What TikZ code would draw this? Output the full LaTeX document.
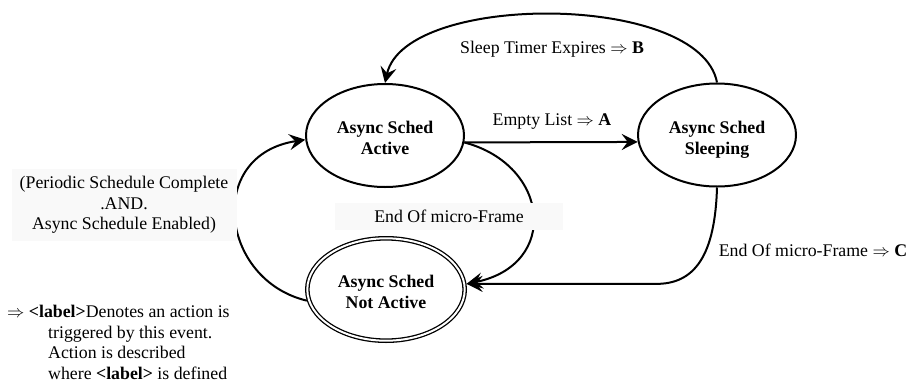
\documentclass[tikz,border=0pt]{standalone}
\usepackage{fontspec}
\setmainfont{Liberation Serif}
\usetikzlibrary{arrows.meta,shapes.geometric}
\newcommand\myTopStrut{\rule{0pt}{22pt}}
\newcommand\myBotStrut{\rule[-5pt]{0pt}{5pt}}
\begin{document}
\begin{tikzpicture}[x=1pt,y=-1pt,
  every node/.style={font=\fontsize{17.8}{21}\selectfont},
  state/.style={ellipse, draw, line width=2pt, fill=white, minimum width=158pt,
    minimum height=103pt, inner sep=0pt, align=center,
    font=\fontsize{17.8}{21}\selectfont\bfseries},
  finalstate/.style={state, double, double distance=2pt, line width=1.3pt,
    minimum width=157.4pt, minimum height=102.4pt, outer sep=2.3pt},
  conn/.style={line width=2pt, -{Stealth[length=16pt,width=16pt,inset=6pt]}},
  lbl/.style={anchor=base, inner sep=0pt},
  shadebox/.style={fill=black!2.5, inner sep=0pt, align=center}]
\useasboundingbox (0,0) rectangle (909,383);

% states
\node[state] (act) at (385,135.5) {\myTopStrut Async Sched\\Active\myBotStrut};
\node[state] (slp) at (717,135) {\myTopStrut Async Sched\\Sleeping\myBotStrut};
\node[finalstate] (na) at (386,289.5) {\myTopStrut Async Sched\\Not Active\myBotStrut};

\coordinate (bend) at (655,0);

% connectors
\draw[conn] (act.-5) -- (slp.185);
\draw[conn] (slp.north) .. controls (700,-8) and (405,-8) .. (act.north);
\draw[conn] (act.-5) .. controls (550,165) and (560,265) .. (na.4);
\draw[conn] (slp.south) .. controls (715,255) and (695,284.6) .. (na.4 -| bend) -- (na.4);
\draw[conn] (na.188) .. controls (220,280) and (205,155) .. (act.183);

% labels
\node[lbl] (tsleep) at (552,53) {Sleep Timer Expires $\Rightarrow$ \textbf{B}};
\node[lbl] (tempty) at (552,125) {Empty List $\Rightarrow$ \textbf{A}};
\node[shadebox, minimum width=228pt, minimum height=27pt] (tend) at (449,216.5) {End Of micro-Frame};
\node[lbl] (tendc) at (813,256) {End Of micro-Frame $\Rightarrow$ \textbf{C}};
\node[shadebox, minimum width=225pt, minimum height=72pt,
  font=\fontsize{17.8}{20.3}\selectfont] (tper) at (124,205)
  {(Periodic Schedule Complete\\.AND.\\Async Schedule Enabled)};

% legend (base anchor = baseline of last line)
\node[anchor=base west, align=left, inner sep=0pt,
  font=\fontsize{17.8}{20.7}\selectfont] (legend) at (7,379.6)
  {$\Rightarrow$ \textbf{<label>}Denotes an action is\\
   \hspace*{41pt}triggered by this event.\\
   \hspace*{41pt}Action is described\\
   \hspace*{41pt}where \textbf{<label>} is defined};
\end{tikzpicture}
\end{document}
